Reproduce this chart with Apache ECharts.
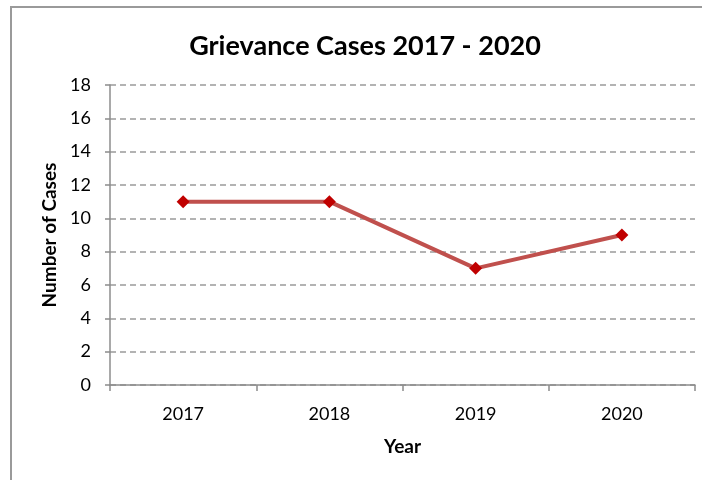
<!DOCTYPE html>
<html>
<head>
<meta charset="utf-8">
<script src="https://cdn.jsdelivr.net/npm/echarts@6/dist/echarts.min.js"></script>
<style>
  html, body { margin: 0; padding: 0; background: #fff; }
  #chart { width: 702px; height: 480px; }
</style>
</head>
<body>
<div id="chart"></div>
<script>
// Grievance case counts per year
const years = ['2017', '2018', '2019', '2020'];
const cases = [11, 11, 7, 9];
const yTicks = { min: 0, max: 18, interval: 2 };

const chart = echarts.init(document.getElementById('chart'), null, { renderer: 'canvas' });
const font = 'Lato, "Open Sans", sans-serif';

chart.setOption({
  animation: false,
  backgroundColor: '#fff',
  textStyle: { fontFamily: font },
  graphic: [{
    type: 'rect',
    shape: { x: 11, y: 7, width: 720, height: 500 },
    style: { fill: 'none', stroke: '#9a9a9a', lineWidth: 2 },
    silent: true
  }],
  title: {
    text: 'Grievance Cases 2017 - 2020',
    left: 360, top: 28, textAlign: 'center',
    textStyle: { fontFamily: font, fontWeight: 'bold', fontSize: 27, color: '#000' }
  },
  grid: { left: 110, right: 7, top: 85, bottom: 95 },
  xAxis: {
    type: 'category',
    data: years,
    boundaryGap: true,
    name: 'Year',
    nameLocation: 'middle',
    nameGap: 52,
    nameTextStyle: { fontFamily: font, fontWeight: 'bold', fontSize: 19, color: '#000' },
    axisLine: { lineStyle: { color: '#8c8c8c', width: 1.5 } },
    axisTick: { show: true, alignWithLabel: false, length: 6, lineStyle: { color: '#8c8c8c', width: 1.5 } },
    axisLabel: { color: '#000', fontSize: 18, margin: 20, fontFamily: font },
    splitLine: { show: false }
  },
  yAxis: {
    type: 'value',
    min: yTicks.min, max: yTicks.max, interval: yTicks.interval,
    name: 'Number of Cases',
    nameLocation: 'middle',
    nameGap: 42,
    nameTextStyle: { fontFamily: font, fontWeight: 'bold', fontSize: 19, color: '#000' },
    axisLine: { show: true, lineStyle: { color: '#8c8c8c', width: 1.5 } },
    axisTick: { show: true, length: 5, lineStyle: { color: '#8c8c8c', width: 1.5 } },
    axisLabel: { color: '#000', fontSize: 18, margin: 19, fontFamily: font },
    splitLine: { show: true, lineStyle: { color: '#9a9a9a', type: [6, 4], width: 1.5 } }
  },
  series: [{
    type: 'line',
    data: cases,
    symbol: 'diamond',
    symbolSize: 13,
    itemStyle: { color: '#c00000' },
    lineStyle: { color: '#c0504d', width: 4 },
    z: 3
  }]
});
</script>
</body>
</html>
